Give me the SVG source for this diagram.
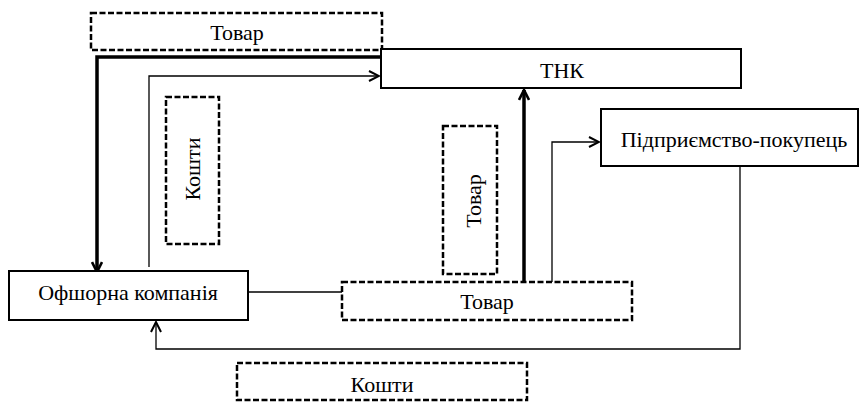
<svg xmlns="http://www.w3.org/2000/svg" width="863" height="405" viewBox="0 0 863 405">
<style>
  text { font-family: "Liberation Serif", "Times New Roman", "DejaVu Serif", serif; font-size: 22px; fill: #000; text-anchor: middle; }
  .node { fill: #fff; stroke: #000; stroke-width: 2; }
  .dash { fill: none; stroke: #000; stroke-width: 2.5; stroke-dasharray: 6 2.5; }
  .thin { fill: none; stroke: #000; stroke-width: 1.3; }
  .thick { fill: none; stroke: #000; stroke-width: 3.5; }
</style>
<defs>
  <marker id="arr" viewBox="0 0 12 12" refX="11" refY="6" markerWidth="12" markerHeight="12" markerUnits="userSpaceOnUse" orient="auto">
    <path d="M1,1 L11,6 L1,11" fill="none" stroke="#000" stroke-width="2"/>
  </marker>
  <marker id="arrT" viewBox="0 0 12 12" refX="11" refY="6" markerWidth="12" markerHeight="12" markerUnits="userSpaceOnUse" orient="auto">
    <path d="M1,1 L11,6 L1,11" fill="none" stroke="#000" stroke-width="2.6"/>
  </marker>
</defs>
<g id="connectors">
  <polyline class="thick" points="382,57 97,57 97,272" marker-end="url(#arrT)"/>
  <polyline class="thin" points="149,267 149,76 379,76" marker-end="url(#arr)"/>
  <line class="thick" x1="524" y1="282" x2="524" y2="90" marker-end="url(#arrT)"/>
  <polyline class="thin" points="552,282 552,142 599,142" marker-end="url(#arr)"/>
  <polyline class="thin" points="740,166 740,349 156,349 156,322" marker-end="url(#arr)"/>
  <line class="thin" x1="248" y1="292" x2="342" y2="292"/>
</g>
<g id="label-tovar-top">
  <rect class="dash" x="91" y="13" width="291" height="37"/>
  <text x="237" y="40">Товар</text>
</g>
<g id="tnk">
  <rect class="node" x="381" y="49" width="360" height="39"/>
  <text x="562" y="78">ТНК</text>
</g>
<g id="label-koshty-vert">
  <rect class="dash" x="166" y="97" width="53" height="147"/>
  <text transform="translate(200,169) rotate(-90)">Кошти</text>
</g>
<g id="label-tovar-vert">
  <rect class="dash" x="443" y="126" width="54" height="148"/>
  <text transform="translate(481,201) rotate(-90)">Товар</text>
</g>
<g id="pidpryiemstvo">
  <rect class="node" x="601" y="109" width="257" height="57"/>
  <text x="734" y="147">Підприємство-покупець</text>
</g>
<g id="offshore">
  <rect class="node" x="9" y="271" width="239" height="49"/>
  <text x="128" y="300">Офшорна компанія</text>
</g>
<g id="label-tovar-mid">
  <rect class="dash" x="342" y="282" width="290" height="38"/>
  <text x="487" y="309">Товар</text>
</g>
<g id="label-koshty-bottom">
  <rect class="dash" x="237" y="363" width="290" height="37"/>
  <text x="382" y="392">Кошти</text>
</g>
</svg>
